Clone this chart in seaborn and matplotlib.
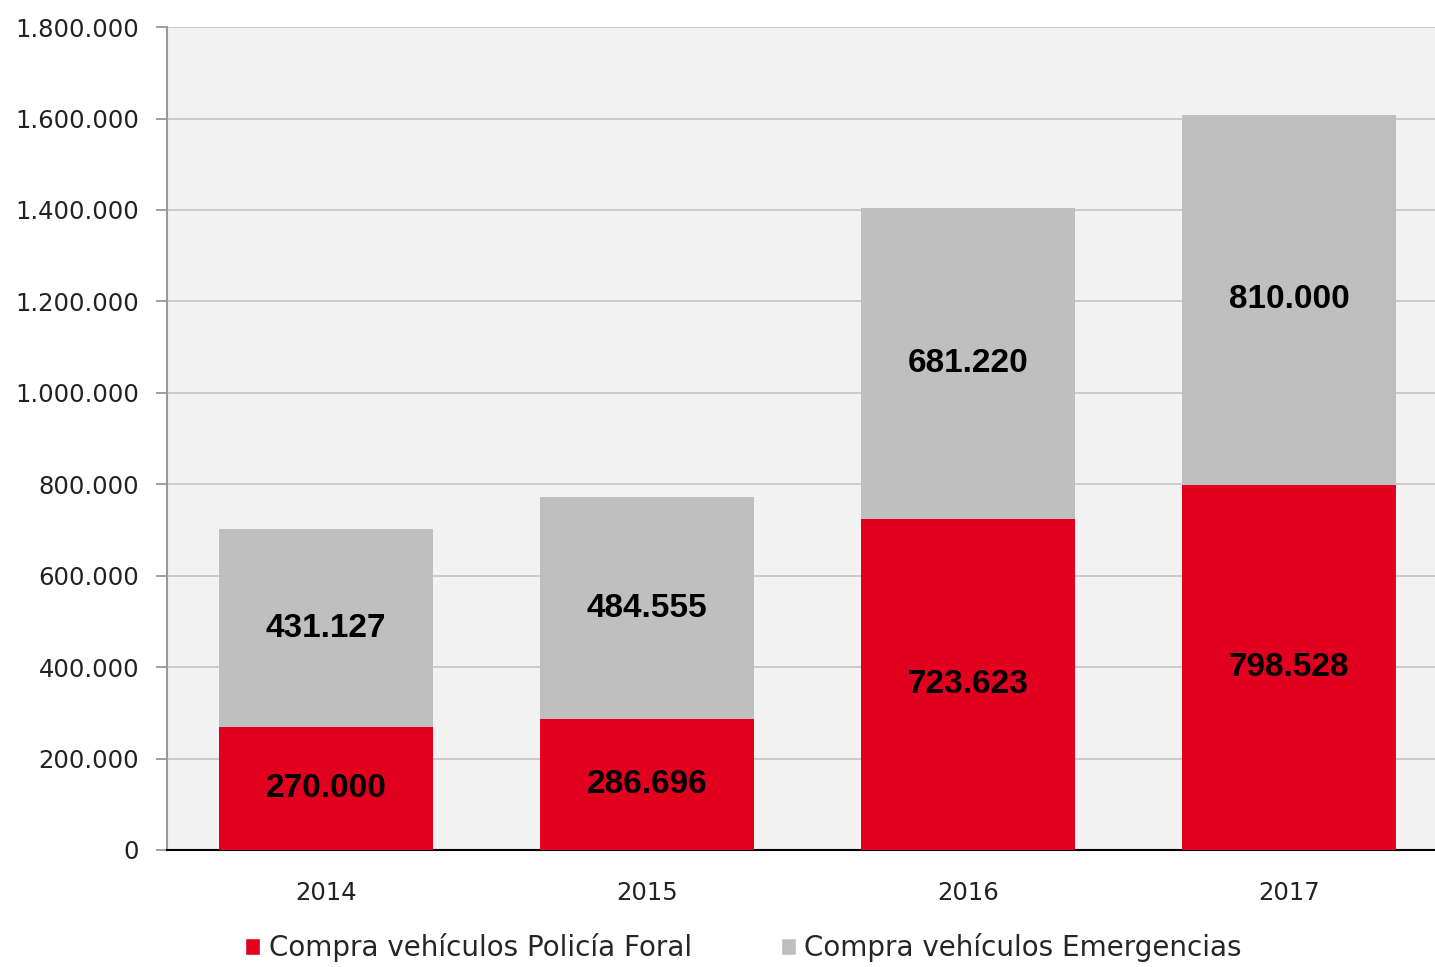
import matplotlib

matplotlib.use("Agg")
import matplotlib.pyplot as plt
import pandas as pd
import seaborn as sns
from matplotlib.patches import Patch
from matplotlib.ticker import FuncFormatter

# Data
years = ["2014", "2015", "2016", "2017"]
policia_foral = [270000, 286696, 723623, 798528]
emergencias = [431127, 484555, 681220, 810000]
series_names = ["Compra vehículos Policía Foral", "Compra vehículos Emergencias"]

df = pd.DataFrame(
    {"year": years, "policia": policia_foral, "emergencias": emergencias}
)
df["total"] = df["policia"] + df["emergencias"]

red = "#e2001f"
grey = "#bfbfbf"

sns.set_theme(style="white")
plt.rcParams["font.family"] = ["DejaVu Sans"]

fig = plt.figure(figsize=(14.35, 9.67), dpi=100)
ax = fig.add_axes([0.1164, 0.121, 0.8836, 0.851])
ax.set_facecolor("#f2f2f2")

# Stacked bars: grey total behind, red bottom segment in front
sns.barplot(data=df, x="year", y="total", color=grey, width=0.667,
            saturation=1, linewidth=0, ax=ax, zorder=2)
sns.barplot(data=df, x="year", y="policia", color=red, width=0.667,
            saturation=1, linewidth=0, ax=ax, zorder=3)

# Value labels centred in each segment
for i, row in df.iterrows():
    ax.text(i, row["policia"] / 2, f"{row['policia']:,}".replace(",", "."),
            ha="center", va="center", fontsize=24, fontweight="bold",
            family="Liberation Sans", color="black", zorder=5)
    ax.text(i, row["policia"] + row["emergencias"] / 2,
            f"{row['emergencias']:,}".replace(",", "."),
            ha="center", va="center", fontsize=24, fontweight="bold",
            family="Liberation Sans", color="black", zorder=5)

ax.set_ylim(0, 1800000)
ax.set_xlim(-0.495, 3.455)
ax.set_yticks(range(0, 1800001, 200000))
ax.yaxis.set_major_formatter(
    FuncFormatter(lambda v, p: f"{int(v):,}".replace(",", "."))
)
ax.grid(axis="y", color="#cacaca", linewidth=1.4, zorder=0)
ax.set_axisbelow(True)

ax.set_xlabel("")
ax.set_ylabel("")
ax.tick_params(axis="y", direction="out", length=8, width=1.3, color="#999999",
               labelsize=17.5, labelcolor="#222222", pad=12, left=True)
ax.tick_params(axis="x", length=0, labelsize=17.5, labelcolor="#222222", pad=22)

for side in ["top", "right"]:
    ax.spines[side].set_visible(False)
ax.spines["left"].set_color("#999999")
ax.spines["left"].set_linewidth(1.5)
ax.spines["bottom"].set_color("black")
ax.spines["bottom"].set_linewidth(1.5)

handles = [Patch(facecolor=red, label=series_names[0]),
           Patch(facecolor=grey, label=series_names[1])]
fig.legend(handles=handles, loc="center", bbox_to_anchor=(0.518, 0.02),
           ncol=2, frameon=False, fontsize=20, handlelength=0.55,
           handleheight=0.55, handletextpad=0.3, columnspacing=3.2)

fig.savefig("out.png", dpi=100)
